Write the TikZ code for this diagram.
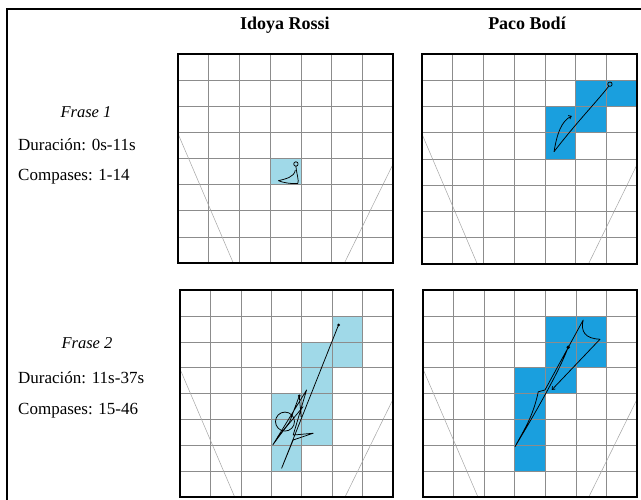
\documentclass[tikz,border=0pt]{standalone}
\usepackage{fontspec}
\setmainfont{Liberation Serif}
\usetikzlibrary{arrows.meta}
\definecolor{lightcellc}{RGB}{160,217,232}
\definecolor{darkcellc}{RGB}{26,159,222}
\definecolor{gridc}{RGB}{140,140,140}
\definecolor{guidec}{RGB}{165,165,165}
\begin{document}
\begin{tikzpicture}[x=1pt,y=-1pt]
\tikzset{
  cellgrid/.style={draw=gridc, line width=0.6pt},
  panelborder/.style={draw=black, line width=2pt},
  guide/.style={draw=guidec, line width=0.5pt},
  trace/.style={draw=black, line width=0.75pt, line join=round},
  lcell/.style={fill=lightcellc},
  dcell/.style={fill=darkcellc},
  hdr/.style={font=\bfseries\fontsize{18}{21}\selectfont, anchor=base},
  ttl/.style={font=\itshape\fontsize{16.5}{19}\selectfont, anchor=base},
  info/.style={font=\fontsize{17}{20}\selectfont, anchor=base west, inner xsep=0pt},
  tip/.style={-{Straight Barb[length=2.6pt,width=4pt]}},
}
\useasboundingbox (0,0) rectangle (641,499);
\clip (0,0) rectangle (641,499);
\fill[white] (0,0) rectangle (641,499);
\draw[line width=1.2pt] (7,9) rectangle (660,520);

% headers
\node[hdr] (h1) at (285,29) {Idoya Rossi};
\node[hdr] (h2) at (527,29) {Paco Bodí};

% row labels
\node[ttl] (f1) at (86,117.5) {Frase 1};
\node[info] (d1) at (18,150.5) {Duración: 0s-11s};
\node[info] (c1) at (18,180) {Compases: 1-14};
\node[ttl] (f2) at (87,348.5) {Frase 2};
\node[info] (d2) at (18,383.5) {Duración: 11s-37s};
\node[info] (c2) at (18,414) {Compases: 15-46};

\newcommand\gridlines{%
  \foreach \i in {1,...,6} \draw[cellgrid] (\i,0) -- (\i,8);
  \foreach \j in {1,...,7} \draw[cellgrid] (0,\j) -- (7,\j);
  \draw[guide] (0,3.05) -- (1.8,8);
  \draw[guide] (7,4.22) -- (5.42,8);
}

% panel 1
\begin{scope}[shift={(178pt,-54pt)}, x=30.71pt, y=-26.125pt]
  \fill[lcell] (3,4) rectangle (4,5);
  \gridlines
  \draw[panelborder] (0,0) rectangle (7,8);
  \draw[trace] (3.84,4.29) .. controls (3.86,4.6) and (3.95,4.85) .. (3.9,4.96)
     .. controls (3.7,4.98) and (3.4,4.92) .. (3.27,4.85)
     .. controls (3.5,4.78) and (3.78,4.72) .. (3.82,4.45);
  \draw[trace] (3.84,4.21) circle[radius=2.2pt];
\end{scope}

% panel 2
\begin{scope}[shift={(422pt,-54pt)}, x=30.71pt, y=-26.25pt]
  \fill[dcell] (5,1) rectangle (7,2);
  \fill[dcell] (4,2) rectangle (6,3);
  \fill[dcell] (4,3) rectangle (5,4);
  \gridlines
  \draw[panelborder] (0,0) rectangle (7,8);
  \draw[trace] (6.08,1.23) .. controls (5.7,1.8) and (5.0,2.65) .. (4.3,3.72);
  \draw[trace,tip] (4.3,3.72) .. controls (4.4,3.0) and (4.55,2.55) .. (4.88,2.36);
  \draw[trace] (6.12,1.15) circle[radius=2.2pt];
\end{scope}

% panel 3
\begin{scope}[shift={(180pt,-290pt)}, x=30.43pt, y=-25.9pt]
  \fill[lcell] (5,1) rectangle (6,3);
  \fill[lcell] (4,2) rectangle (5,6);
  \fill[lcell] (3,4) rectangle (4,7);
  \gridlines
  \draw[panelborder] (0,0) rectangle (7,8);
  \draw[trace] (5.21,1.35) -- (3.34,6.88) -- (3.72,5.79) -- (4.38,5.53)
     -- (3.72,5.6) -- (4.16,3.86) -- (3.05,5.98) -- (3.6,5.1) -- (3.92,4.09)
     -- (3.98,4.9);
  \draw[trace] (3.2,5.7) -- (4.05,4.5);
  \draw[trace] (3.45,5.08) circle[radius=9.5pt];
  \fill (5.21,1.35) circle[radius=1.5pt];
  \fill (3.92,4.09) circle[radius=1.5pt];
\end{scope}

% panel 4
\begin{scope}[shift={(423pt,-290pt)}, x=30.57pt, y=-25.9pt]
  \fill[dcell] (4,1) rectangle (6,3);
  \fill[dcell] (3,3) rectangle (5,4);
  \fill[dcell] (3,4) rectangle (4,7);
  \gridlines
  \draw[panelborder] (0,0) rectangle (7,8);
  \draw[trace] (4.75,2.21) .. controls (4.5,3.0) and (3.9,4.3) .. (3.01,6.05)
     .. controls (3.3,5.4) and (3.6,4.9) .. (3.77,3.93) -- (3.99,3.86)
     -- (5.24,1.16) .. controls (5.15,1.6) and (5.3,1.88) .. (5.79,1.9);
  \draw[trace,tip] (5.79,1.9) -- (4.21,3.86);
  \fill (4.75,2.21) circle[radius=1.8pt];
\end{scope}
\end{tikzpicture}
\end{document}
